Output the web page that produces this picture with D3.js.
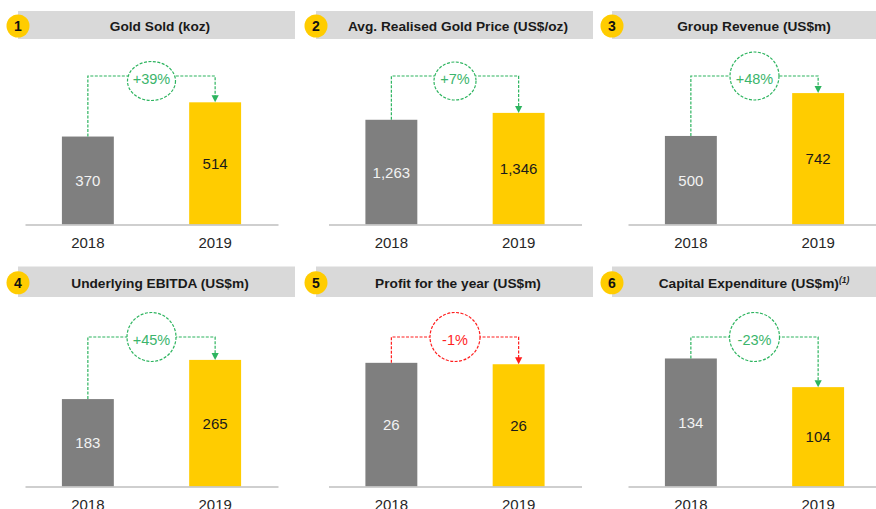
<!DOCTYPE html>
<html>
<head>
<meta charset="utf-8">
<script src="https://cdn.jsdelivr.net/npm/d3@7"></script>
<style>
    html, body { margin: 0; padding: 0; background: #fff; }
    svg { display: block; font-family: "Liberation Sans", Arial, sans-serif; }
</style>
</head>
<body>
<svg id="chart" width="876" height="509"></svg>
<script>
// chart values
const titles = [
    'Gold Sold (koz)',
    'Avg. Realised Gold Price (US$/oz)',
    'Group Revenue (US$m)',
    'Underlying EBITDA (US$m)',
    'Profit for the year (US$m)',
    'Capital Expenditure (US$m)'
];
const titleNotes = ['', '', '', '', '', '(1)'];
const years = ['2018', '2019'];
const values2018 = [370, 1263, 500, 183, 26.3, 134];
const values2019 = [514, 1346, 742, 265, 26.0, 104];
const changes = ['+39%', '+7%', '+48%', '+45%', '-1%', '-23%'];
const favourable = [true, true, true, true, false, true];
const scaleMax = [631, 1809, 847, 314, 31.9, 157];

// layout
const plotLeft = [25, 328.5, 628];
const plotWidth = 253;
const headLeft = [18, 316, 612];
const headWidth = 277;
const headTop = [11, 266.5];
const headHeight = [28, 30.5];
const baseY = [224.5, 486.5];
const linkY = [76, 337];
const barRange = 150;
const rings = [[24, 19.5, 5], [21, 19, 5], [24.5, 24, 0], [24.5, 24.5, 0], [25, 24.5, 0], [25, 24.5, 0]];

const colors = {
    head: '#d9d9d9',
    badge: '#ffcc00',
    prev: '#7f7f7f',
    curr: '#ffcc00',
    axis: '#bfbfbf',
    text: '#1a1a1a',
    up: '#2db45f',
    upText: '#3bb56c',
    down: '#ff1e1e'
};

const svg = d3.select('#chart');
const fmt = d3.format(',.0f');

titles.forEach((title, i) => {
    const col = i % 3;
    const row = Math.floor(i / 3);
    const g = svg.append('g');

    // header band with number badge
    const hy = headTop[row];
    const hc = hy + headHeight[row] / 2;
    g.append('rect')
        .attr('x', headLeft[col])
        .attr('y', hy)
        .attr('width', headWidth)
        .attr('height', headHeight[row])
        .attr('fill', colors.head);

    g.append('circle')
        .attr('cx', headLeft[col])
        .attr('cy', hc + 1)
        .attr('r', 11.5)
        .attr('fill', colors.badge);

    g.append('text')
        .attr('x', headLeft[col])
        .attr('y', hc + 1)
        .attr('dy', '0.36em')
        .attr('text-anchor', 'middle')
        .attr('font-size', 14)
        .attr('font-weight', 'bold')
        .attr('fill', '#111')
        .text(i + 1);

    const t = g.append('text')
        .attr('x', headLeft[col] + 142)
        .attr('y', hc + 1)
        .attr('dy', '0.36em')
        .attr('text-anchor', 'middle')
        .attr('font-size', 13.7)
        .attr('font-weight', 'bold')
        .attr('fill', colors.text)
        .text(title);
    if (titleNotes[i]) {
        t.append('tspan')
            .attr('font-size', 8.5)
            .attr('font-style', 'italic')
            .attr('dy', '-0.55em')
            .text(titleNotes[i]);
    }

    // scales
    const x = d3.scaleBand()
        .domain(years)
        .range([plotLeft[col], plotLeft[col] + plotWidth])
        .paddingInner(0.592)
        .paddingOuter(0.29);
    const y = d3.scaleLinear()
        .domain([0, scaleMax[i]])
        .range([baseY[row], baseY[row] - barRange]);

    const data = [
        {year: years[0], value: values2018[i], fill: colors.prev, label: '#f2f2f2'},
        {year: years[1], value: values2019[i], fill: colors.curr, label: colors.text}
    ];

    g.selectAll('.bar')
        .data(data)
        .enter().append('rect')
        .attr('class', 'bar')
        .attr('x', d => x(d.year))
        .attr('y', d => y(d.value))
        .attr('width', x.bandwidth())
        .attr('height', d => y(0) - y(d.value))
        .attr('fill', d => d.fill);

    g.selectAll('.val')
        .data(data)
        .enter().append('text')
        .attr('class', 'val')
        .attr('x', d => x(d.year) + x.bandwidth() / 2)
        .attr('y', d => (y(0) + y(d.value)) / 2)
        .attr('dy', '0.36em')
        .attr('text-anchor', 'middle')
        .attr('font-size', 15)
        .attr('fill', d => d.label)
        .text(d => fmt(d.value));

    // baseline + year labels
    const axis = g.append('g')
        .attr('transform', `translate(0,${baseY[row]})`)
        .call(d3.axisBottom(x).tickSize(0).tickPadding(12.4));
    axis.select('.domain')
        .attr('stroke', colors.axis)
        .attr('stroke-width', 1.6);
    axis.selectAll('text')
        .attr('font-size', 15)
        .attr('font-family', '"Liberation Sans", Arial, sans-serif')
        .attr('fill', '#262626');

    // change connector
    const lineColor = favourable[i] ? colors.up : colors.down;
    const textColor = favourable[i] ? colors.upText : colors.down;
    const x0 = x(years[0]) + x.bandwidth() / 2;
    const x1 = x(years[1]) + x.bandwidth() / 2;
    const ly = linkY[row];
    const tip = y(values2019[i]);

    g.append('path')
        .attr('d', `M${x0},${y(values2018[i])}V${ly}H${x1}V${tip - 6}`)
        .attr('fill', 'none')
        .attr('stroke', lineColor)
        .attr('stroke-width', 1.2)
        .attr('stroke-dasharray', '3,1.5');

    g.append('path')
        .attr('d', `M${x1 - 3.6},${tip - 7}L${x1 + 3.6},${tip - 7}L${x1},${tip}Z`)
        .attr('fill', lineColor);

    const cx = (x0 + x1) / 2;
    const [rx, ry, dy] = rings[i];
    g.append('ellipse')
        .attr('cx', cx)
        .attr('cy', ly + dy)
        .attr('rx', rx)
        .attr('ry', ry)
        .attr('fill', '#fff')
        .attr('stroke', lineColor)
        .attr('stroke-width', 1.2)
        .attr('stroke-dasharray', '3,1.5');

    g.append('text')
        .attr('x', cx)
        .attr('y', ly + 2.5)
        .attr('dy', '0.36em')
        .attr('text-anchor', 'middle')
        .attr('font-size', 14.5)
        .attr('fill', textColor)
        .text(changes[i]);
});
</script>
</body>
</html>
